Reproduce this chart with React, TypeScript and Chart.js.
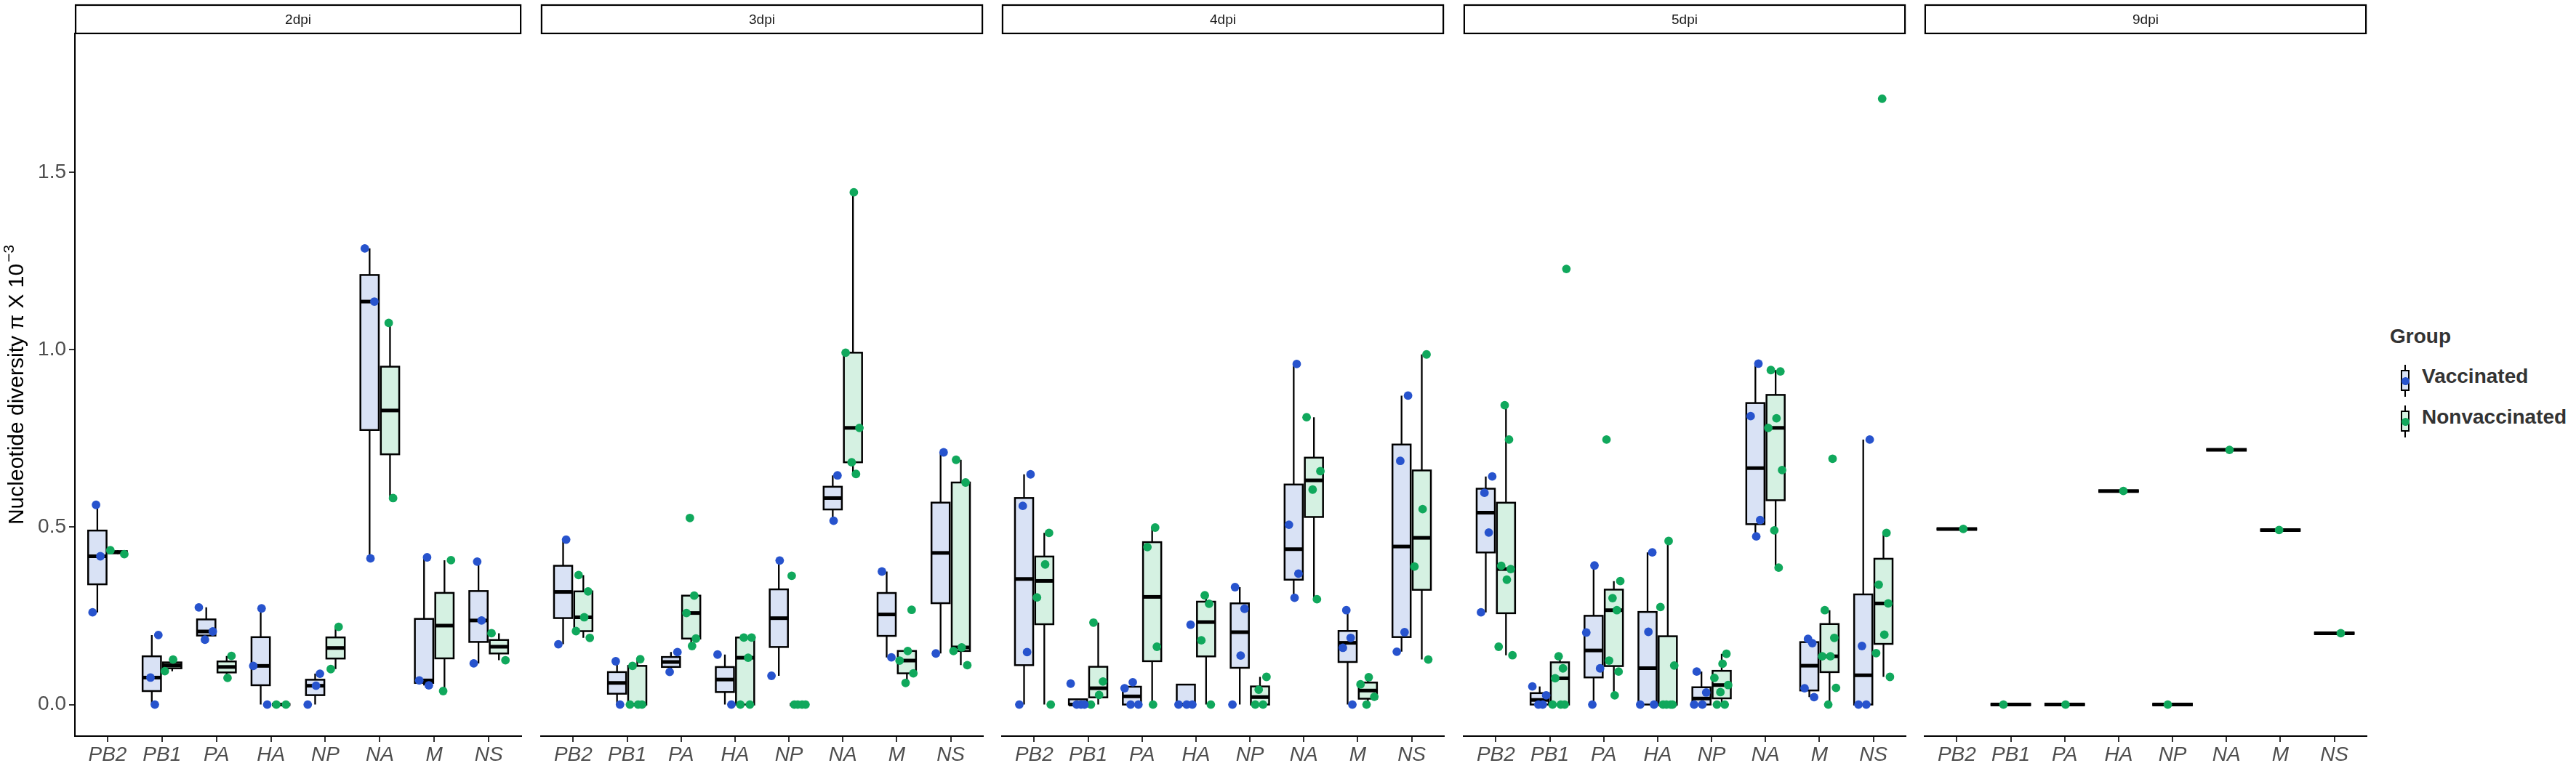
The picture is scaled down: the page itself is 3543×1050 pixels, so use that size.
import { useEffect, useRef } from "react"
import { Chart, registerables } from "chart.js"

Chart.register(...registerables)

const genes = ["PB2", "PB1", "PA", "HA", "NP", "NA", "M", "NS"]
const facets = ["2dpi", "3dpi", "4dpi", "5dpi", "9dpi"]
const groups = ["Vaccinated", "Nonvaccinated"]
const yTitle = "Nucleotide diversity π X 10"
const yTitleExp = "−3"

// nucleotide diversity (x 10^-3), one list of samples per gene
const vaccinated2dpi = [
  [0.26, 0.418, 0.563], [0, 0.076, 0.196], [0.183, 0.206, 0.274], [0, 0.109, 0.271],
  [0, 0.053, 0.087], [0.412, 1.136, 1.286], [0.054, 0.068, 0.415], [0.116, 0.237, 0.403],
]
const nonvaccinated2dpi = [
  [0.424, 0.435], [0.094, 0.127], [0.075, 0.137], [0, 0],
  [0.1, 0.219], [0.582, 1.076], [0.038, 0.407], [0.125, 0.201],
]
const vaccinated3dpi = [
  [0.17, 0.465], [0, 0.122], [0.092, 0.148], [0, 0.141],
  [0.081, 0.406], [0.518, 0.646], [0.133, 0.375], [0.144, 0.711],
]
const nonvaccinated3dpi = [
  [0.188, 0.207, 0.246, 0.319, 0.365], [0, 0, 0, 0.109, 0.128],
  [0.165, 0.186, 0.258, 0.307, 0.526], [0, 0, 0.132, 0.189, 0.189],
  [0, 0, 0, 0, 0.363], [0.65, 0.683, 0.78, 0.992, 1.444],
  [0.061, 0.088, 0.124, 0.151, 0.267], [0.111, 0.151, 0.161, 0.626, 0.69],
]
const vaccinated4dpi = [
  [0, 0.148, 0.56, 0.649], [0, 0, 0, 0.059], [0, 0, 0.046, 0.063], [0, 0, 0, 0.225],
  [0, 0.138, 0.27, 0.331], [0.301, 0.369, 0.507, 0.96], [0, 0.16, 0.188, 0.266], [0.149, 0.204, 0.687, 0.871],
]
const nonvaccinated4dpi = [
  [0, 0.302, 0.395, 0.484], [0, 0.027, 0.065, 0.231], [0, 0.163, 0.444, 0.499], [0, 0.181, 0.284, 0.308],
  [0, 0, 0.042, 0.078], [0.297, 0.606, 0.658, 0.81], [0, 0.022, 0.057, 0.077], [0.127, 0.389, 0.551, 0.987],
]
const vaccinated5dpi = [
  [0.26, 0.485, 0.597, 0.643], [0, 0, 0.026, 0.051], [0, 0.102, 0.203, 0.392], [0, 0, 0.205, 0.429],
  [0, 0, 0.034, 0.093], [0.474, 0.52, 0.813, 0.961], [0.021, 0.046, 0.173, 0.185], [0, 0, 0.165, 0.747],
]
const nonvaccinated5dpi = [
  [0.139, 0.163, 0.352, 0.382, 0.391, 0.747, 0.844],
  [0, 0, 0, 0.074, 0.102, 0.136, 1.228],
  [0.026, 0.093, 0.124, 0.266, 0.3, 0.348, 0.747],
  [0, 0, 0, 0, 0.11, 0.275, 0.461],
  [0, 0, 0.035, 0.055, 0.075, 0.115, 0.143],
  [0.386, 0.491, 0.661, 0.78, 0.807, 0.939, 0.943],
  [0, 0.047, 0.136, 0.136, 0.188, 0.266, 0.693],
  [0.078, 0.145, 0.197, 0.285, 0.338, 0.484, 1.708],
]
const vaccinated9dpi = [[], [], [], [], [], [], [], []]
const nonvaccinated9dpi = [[0.495], [0], [0], [0.602], [0], [0.718], [0.492], [0.201]]

const vaccinated = [vaccinated2dpi, vaccinated3dpi, vaccinated4dpi, vaccinated5dpi, vaccinated9dpi]
const nonvaccinated = [nonvaccinated2dpi, nonvaccinated3dpi, nonvaccinated4dpi, nonvaccinated5dpi, nonvaccinated9dpi]

const yTicks = [0, 0.5, 1, 1.5]

// layout
const W = 3543
const H = 1050
const AXIS_W = 103
const PANEL_STEP = 634.5
const PANEL_W = 620
const STRIP_TOP = 7
const PLOT_TOP = 46
const XAXIS_H = 37
const Y_MIN = -0.089
const Y_MAX = 1.892

const fills = ["#d9e2f5", "#d5f1e2"]
const dots = ["#2753cd", "#10a85c"]
const FONT = "'Liberation Sans', Arial, Helvetica, sans-serif"
const JITTER = [-0.55, 0.35, -0.15, 0.75, -0.85, 0.1, 0.55]

Chart.defaults.font.family = FONT

function quantile(s: number[], p: number) {
  const h = (s.length - 1) * p
  const lo = Math.floor(h)
  const hi = Math.ceil(h)
  return s[lo] + (h - lo) * (s[hi] - s[lo])
}

function boxStats(values: number[]) {
  const s = [...values].sort((a, b) => a - b)
  const q1 = quantile(s, 0.25)
  const med = quantile(s, 0.5)
  const q3 = quantile(s, 0.75)
  const iqr = q3 - q1
  const inside = s.filter((v) => v >= q1 - 1.5 * iqr && v <= q3 + 1.5 * iqr)
  return { q1, med, q3, lo: inside[0], hi: inside[inside.length - 1] }
}

interface Box {
  center: number
  width: number
  fill: string
  stats: ReturnType<typeof boxStats>
}

function makeBoxPlugin(boxes: Box[]) {
  return {
    id: "boxes",
    beforeDatasetsDraw(chart: Chart) {
      const { ctx } = chart
      const x = chart.scales.x
      const y = chart.scales.y
      ctx.save()
      ctx.strokeStyle = "#000"
      boxes.forEach((b) => {
        const xl = x.getPixelForValue(b.center - b.width / 2)
        const xr = x.getPixelForValue(b.center + b.width / 2)
        const xc = x.getPixelForValue(b.center)
        const { q1, med, q3, lo, hi } = b.stats
        ctx.lineWidth = 2.3
        ctx.beginPath()
        ctx.moveTo(xc, y.getPixelForValue(hi))
        ctx.lineTo(xc, y.getPixelForValue(q3))
        ctx.moveTo(xc, y.getPixelForValue(q1))
        ctx.lineTo(xc, y.getPixelForValue(lo))
        ctx.stroke()
        const top = y.getPixelForValue(q3)
        const bottom = y.getPixelForValue(q1)
        ctx.fillStyle = b.fill
        ctx.fillRect(xl, top, xr - xl, bottom - top)
        ctx.lineWidth = 2.5
        ctx.strokeRect(xl, top, xr - xl, bottom - top)
        ctx.lineWidth = 5
        ctx.beginPath()
        ctx.moveTo(xl, y.getPixelForValue(med))
        ctx.lineTo(xr, y.getPixelForValue(med))
        ctx.stroke()
      })
      ctx.restore()
    },
  }
}

function makeStripPlugin(label: string) {
  return {
    id: "strip",
    afterDraw(chart: Chart) {
      const { ctx, chartArea } = chart
      ctx.save()
      ctx.fillStyle = "#fff"
      ctx.strokeStyle = "#000"
      ctx.lineWidth = 2.2
      const w = chartArea.right - chartArea.left
      ctx.fillRect(chartArea.left + 1, STRIP_TOP, w - 2, PLOT_TOP - STRIP_TOP)
      ctx.strokeRect(chartArea.left + 1, STRIP_TOP, w - 2, PLOT_TOP - STRIP_TOP)
      ctx.fillStyle = "#1a1a1a"
      ctx.font = `19px ${FONT}`
      ctx.textAlign = "center"
      ctx.textBaseline = "middle"
      ctx.fillText(label, chartArea.left + w / 2, (STRIP_TOP + PLOT_TOP) / 2 + 1)
      ctx.restore()
    },
  }
}

// rotated y title with a real superscript exponent
const yTitlePlugin = {
  id: "ytitle",
  afterDraw(chart: Chart) {
    const { ctx, chartArea } = chart
    const main = `30px ${FONT}`
    const sup = `21px ${FONT}`
    ctx.save()
    ctx.font = main
    const w1 = ctx.measureText(yTitle).width
    ctx.font = sup
    const w2 = ctx.measureText(yTitleExp).width
    const cy = (chartArea.top + chartArea.bottom) / 2
    ctx.translate(32, cy)
    ctx.rotate(-Math.PI / 2)
    ctx.fillStyle = "#000"
    ctx.textBaseline = "alphabetic"
    ctx.textAlign = "left"
    const start = -(w1 + w2 + 2) / 2
    ctx.font = main
    ctx.fillText(yTitle, start, 0)
    ctx.font = sup
    ctx.fillText(yTitleExp, start + w1 + 2, -13)
    ctx.restore()
  },
}

function Panel({ index }: { index: number }) {
  const chartRef = useRef<HTMLCanvasElement>(null)
  const chartInstance = useRef<Chart | null>(null)
  const first = index === 0
  const left = first ? 0 : Math.round(AXIS_W + index * PANEL_STEP)
  const width = first ? AXIS_W + PANEL_W : PANEL_W

  useEffect(() => {
    if (!chartRef.current) return
    if (chartInstance.current) chartInstance.current.destroy()

    const series = [vaccinated[index], nonvaccinated[index]]
    const boxes: Box[] = []
    const points: { x: number; y: number }[][] = [[], []]
    genes.forEach((_, gi) => {
      const present = series.map((s) => s[gi].length > 0)
      const both = present[0] && present[1]
      series.forEach((s, g) => {
        const vals = s[gi]
        if (!vals.length) return
        const center = gi + (both ? (g === 0 ? -0.1875 : 0.1875) : 0)
        boxes.push({ center, width: both ? 0.3375 : 0.75, fill: fills[g], stats: boxStats(vals) })
        vals.forEach((v, j) => {
          points[g].push({ x: center + JITTER[(j + gi + g * 3) % JITTER.length] * 0.16, y: v })
        })
      })
    })

    const axisGrid = { drawOnChartArea: false, drawTicks: true, tickLength: 8, color: "#333333", lineWidth: 2 }
    const axisBorder = { display: true, color: "#000000", width: 2 }

    const plugins: any[] = [makeBoxPlugin(boxes), makeStripPlugin(facets[index])]
    if (first) plugins.push(yTitlePlugin)

    chartInstance.current = new Chart(chartRef.current, {
      type: "scatter",
      data: {
        datasets: groups.map((name, g) => ({
          label: name,
          data: points[g],
          pointRadius: 5.9,
          pointHoverRadius: 5.9,
          pointBackgroundColor: dots[g],
          pointBorderWidth: 0,
          borderWidth: 0,
        })),
      },
      options: {
        animation: false,
        responsive: false,
        layout: { padding: { top: PLOT_TOP, left: 0, right: 0, bottom: 0 } },
        plugins: { legend: { display: false }, tooltip: { enabled: false } },
        scales: {
          x: {
            type: "linear",
            min: -0.6,
            max: 7.6,
            afterBuildTicks: (s: any) => {
              s.ticks = genes.map((_, i) => ({ value: i }))
            },
            afterFit: (s: any) => {
              s.height = XAXIS_H
            },
            ticks: {
              autoSkip: false,
              maxRotation: 0,
              padding: 1,
              color: "#4d4d4d",
              font: { size: 28, style: "italic" },
              callback: (v: any) => genes[v as number],
            },
            grid: axisGrid,
            border: axisBorder,
          },
          y: {
            display: first,
            min: Y_MIN,
            max: Y_MAX,
            afterBuildTicks: (s: any) => {
              s.ticks = yTicks.map((v) => ({ value: v }))
            },
            afterFit: (s: any) => {
              s.width = first ? AXIS_W : 0
            },
            ticks: {
              padding: 4,
              color: "#4d4d4d",
              font: { size: 28 },
              callback: (v: any) => (v as number).toFixed(1),
            },
            grid: axisGrid,
            border: axisBorder,
          },
        },
      },
      plugins,
    })

    return () => {
      if (chartInstance.current) {
        chartInstance.current.destroy()
        chartInstance.current = null
      }
    }
  }, [index])

  return (
    <canvas
      ref={chartRef}
      width={width}
      height={H}
      style={{ position: "absolute", left, top: 0, width, height: H }}
    />
  )
}

function LegendKey({ group, top }: { group: number; top: number }) {
  return (
    <div style={{ position: "absolute", left: 3296, top, width: 240, height: 44 }}>
      <div style={{ position: "absolute", left: 11, top: 0, width: 2, height: 44, background: "#000" }} />
      <div
        style={{
          position: "absolute",
          left: 6,
          top: 7,
          width: 12,
          height: 29,
          boxSizing: "border-box",
          border: "2px solid #000",
          background: fills[group],
        }}
      />
      <div
        style={{
          position: "absolute",
          left: 6.5,
          top: 16.5,
          width: 11,
          height: 11,
          borderRadius: "50%",
          background: dots[group],
        }}
      />
      <div
        style={{
          position: "absolute",
          left: 35,
          top: 0,
          height: 44,
          lineHeight: "44px",
          font: `bold 28px ${FONT}`,
          color: "#333333",
          whiteSpace: "nowrap",
        }}
      >
        {groups[group]}
      </div>
    </div>
  )
}

export default function App() {
  return (
    <div style={{ position: "fixed", left: 0, top: 0, width: W, height: H, background: "#fff" }}>
      {facets.map((f, i) => (
        <Panel key={f} index={i} />
      ))}
      <div
        style={{
          position: "absolute",
          left: 3287,
          top: 447,
          font: `bold 28px ${FONT}`,
          color: "#333333",
          whiteSpace: "nowrap",
        }}
      >
        Group
      </div>
      <LegendKey group={0} top={502} />
      <LegendKey group={1} top={558} />
    </div>
  )
}
